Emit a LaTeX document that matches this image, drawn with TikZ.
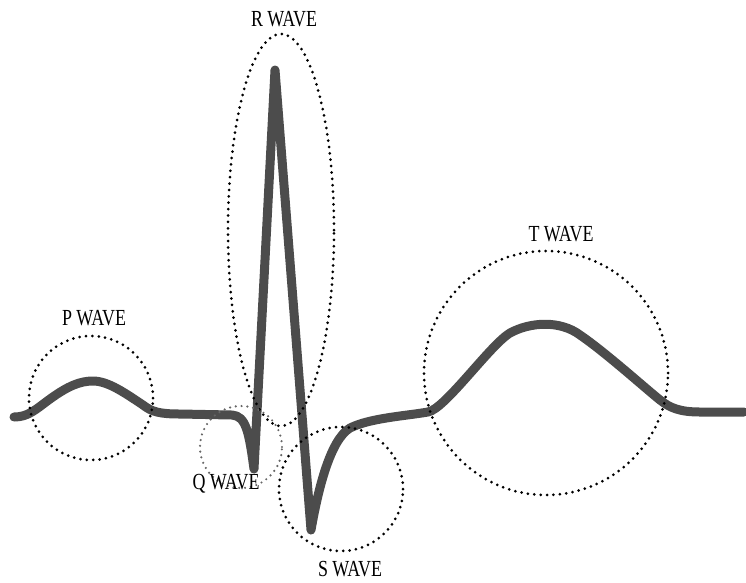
\documentclass[tikz,border=0pt]{standalone}
\usepackage{fontspec}
\setmainfont{Liberation Serif}
\usetikzlibrary{shapes.geometric}
\begin{document}
\begin{tikzpicture}[x=1pt,y=-1pt,
  dotring/.style={draw=black, dash pattern=on 0pt off 6.4pt, line cap=round, line width=3pt, inner sep=0pt, fill=none},
  lightring/.style={dotring, draw=black!60, line width=2.4pt, dash pattern=on 0pt off 5.8pt},
  trace/.style={draw=black!70, line width=9pt, line join=round, line cap=round},
  wavelabel/.style={font=\fontsize{23}{23}\selectfont, xscale=0.78, inner sep=0pt, text=black}]
\useasboundingbox (0,0) rectangle (746,582);
% ECG trace
\draw[trace] (14,417) .. controls (28,417) and (35,410) .. (50,399)
  .. controls (68,386) and (80,381) .. (93,381)
  .. controls (108,381) and (125,393) .. (143,405)
  .. controls (152,412) and (160,414) .. (180,414)
  -- (232,415)
  .. controls (246,416) and (249,432) .. (254,469)
  -- (275,70) -- (311,530)
  .. controls (318,490) and (330,440) .. (350,428)
  .. controls (370,418) and (405,416) .. (428,412)
  .. controls (445,409) and (490,345) .. (510,333)
  .. controls (530,322) and (560,320) .. (580,335)
  .. controls (605,352) and (645,388) .. (660,400)
  .. controls (670,408) and (680,412) .. (700,412)
  -- (744,412);
% rings
\node[dotring, circle, minimum size=124pt] (pring) at (91,398) {};
\node[dotring, ellipse, minimum width=106pt, minimum height=392pt] (rring) at (281,230) {};
\node[lightring, circle, minimum size=82pt] (qring) at (241,447) {};
\node[dotring, circle, minimum size=124pt] (sring) at (341,489) {};
\node[dotring, circle, minimum size=244pt] (tring) at (546,373) {};
% labels
\node[wavelabel] (plabel) at (94,318) {P WAVE};
\node[wavelabel] (rlabel) at (284,19) {R WAVE};
\node[wavelabel] (tlabel) at (561,234) {T WAVE};
\node[wavelabel] (qlabel) at (226,484) {Q WAVE};
\node[wavelabel] (slabel) at (350,569) {S WAVE};
\end{tikzpicture}
\end{document}
